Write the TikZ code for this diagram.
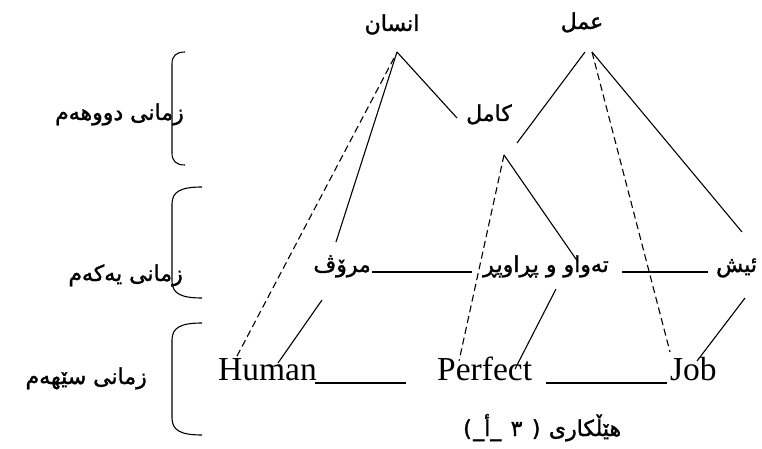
\documentclass[tikz,border=0pt]{standalone}
\usepackage{fontspec}
\setmainfont{Liberation Serif}
\newfontfamily\arabicfont[Script=Arabic,FakeBold=1.5]{DejaVu Sans}
\newfontfamily\parenfont[FakeBold=1.5]{DejaVu Sans}
\TeXXeTstate=1
\begin{document}
\begin{tikzpicture}[x=1pt,y=-1pt,
  ar/.style={font=\arabicfont\fontsize{22}{26}\selectfont, inner sep=0pt},
  pr/.style={font=\parenfont\fontsize{22}{26}\selectfont, inner sep=0pt},
  en/.style={font=\fontsize{33.5}{40}\selectfont, inner sep=0pt},
  ln/.style={line width=1.1pt},
  dl/.style={line width=1.1pt, dash pattern=on 7pt off 4pt},
  brk/.style={line width=1.1pt}]
\useasboundingbox (0,0) rectangle (762,449);
% top words
\node[ar,anchor=base] (insan) at (392,31) {\beginR انسان\endR};
\node[ar,anchor=base] (amal) at (582,29) {\beginR عمل\endR};
\node[ar,anchor=base] (kamil) at (489,121) {\beginR کامل\endR};
% first-language layer
\node[ar,anchor=base east] (marov) at (371,272) {\beginR مرۆڤ\endR};
\node[ar,anchor=base] (tawaw) at (546,272) {\beginR تەواو و پڕاوپڕ\endR};
\node[ar,anchor=base west] (ish) at (716,272) {\beginR ئیش\endR};
% labels
\node[ar,anchor=base east] (lab2) at (184,120) {\beginR زمانی دووهەم\endR};
\node[ar,anchor=base east] (lab1) at (183,281) {\beginR زمانی یەکەم\endR};
\node[ar,anchor=base east] (lab3) at (147,384) {\beginR زمانی سێهەم\endR};
% English
\node[en,anchor=base west] (human) at (218,380) {Human};
\node[en,anchor=base west] (perfect) at (437,380) {Perfect};
\node[en,anchor=base west] (job) at (670,380) {Job};
% caption, laid out left to right as printed
\node[pr,anchor=base west] (cp1) at (463,436) {(};
\node[ar,anchor=base west] (cp2) at ([xshift=1pt]cp1.base east) {\beginR\_أ\_\endR};
\node[ar,anchor=base west] (cp3) at ([xshift=9pt]cp2.base east) {٣};
\node[pr,anchor=base west] (cp4) at ([xshift=9pt]cp3.base east) {)};
\node[ar,anchor=base west] (cp5) at ([xshift=8pt]cp4.base east) {\beginR هێڵکاری\endR};
% coordinates
\coordinate (iA) at (397,52);
\coordinate (iK) at (457,118);
\coordinate (iM) at (336,242);
\coordinate (iDs) at (394,58);
\coordinate (iH) at (236,358);
\coordinate (aA) at (585,52);
\coordinate (aB) at (592,52);
\coordinate (aK) at (517,143);
\coordinate (aJ) at (670,352);
\coordinate (aI) at (742,232);
\coordinate (kA) at (504,155);
\coordinate (kP) at (459,361);
\coordinate (kT) at (578,262);
\coordinate (hA) at (278,363);
\coordinate (hM) at (322,300);
\coordinate (pA) at (515,369);
\coordinate (pT) at (556,289);
\coordinate (jA) at (697,361);
\coordinate (jI) at (745,298);
\coordinate (m1) at (372,272);
\coordinate (m2) at (472,272);
\coordinate (t1) at (622,272);
\coordinate (t2) at (708,272);
\coordinate (u1) at (315,383);
\coordinate (u2) at (406,383);
\coordinate (u3) at (546,383);
\coordinate (u4) at (667,383);
% connectors
\draw[ln] (iA) -- (iK);
\draw[ln] (iA) -- (iM);
\draw[dl] (iDs) -- (iH);
\draw[ln] (aA) -- (aK);
\draw[dl] (aB) -- (aJ);
\draw[ln] (aB) -- (aI);
\draw[dl] (kA) -- (kP);
\draw[ln] (kA) -- (kT);
\draw[ln] (hA) -- (hM);
\draw[ln] (pA) -- (pT);
\draw[ln] (jA) -- (jI);
\draw[ln] (m1) -- (m2);
\draw[ln] (t1) -- (t2);
\draw[ln] (u1) -- (u2);
\draw[ln] (u3) -- (u4);
% brackets
\draw[brk] (185,52) .. controls (176,52) and (172,56) .. (172,64) -- (172,153) .. controls (172,161) and (176,165) .. (185,165);
\draw[brk] (202,187) .. controls (180,187) and (172,192) .. (172,204) -- (172,281) .. controls (172,293) and (180,298) .. (202,298);
\draw[brk] (202,323) .. controls (180,323) and (172,328) .. (172,340) -- (172,418) .. controls (172,430) and (180,435) .. (202,435);
\end{tikzpicture}
\end{document}
